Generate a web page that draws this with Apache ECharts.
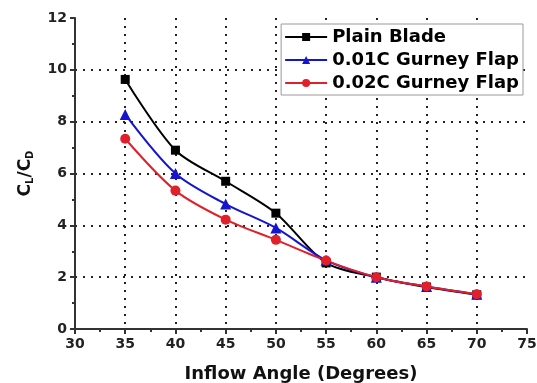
<!DOCTYPE html>
<html>
<head>
<meta charset="utf-8">
<script src="https://cdn.jsdelivr.net/npm/echarts@6/dist/echarts.min.js"></script>
<style>
  html, body { margin: 0; padding: 0; background: #fff; }
  #chart { width: 537px; height: 383px; }
</style>
</head>
<body>
<div id="chart"></div>
<script>
  // inflow angle (degrees)
  const angles = [35, 40, 45, 50, 55, 60, 65, 70];
  // CL/CD ratio for each blade configuration
  const plainBlade = [9.63, 6.9, 5.7, 4.47, 2.55, 2.0, 1.62, 1.32];
  const gurney001 = [8.28, 6.0, 4.82, 3.9, 2.65, 2.0, 1.64, 1.34];
  const gurney002 = [7.34, 5.34, 4.22, 3.44, 2.64, 2.0, 1.64, 1.34];
  const seriesNames = ['Plain Blade', '0.01C Gurney Flap', '0.02C Gurney Flap'];

  const pairs = arr => angles.map((a, i) => [a, arr[i]]);

  const chart = echarts.init(document.getElementById('chart'));

  const font = '"DejaVu Sans", Arial, sans-serif';
  const dotted = { color: '#222', width: 2, type: [2, 6] };

  const makeSeries = (name, values, color, symbol, size) => ({
    name,
    type: 'line',
    smooth: 0.3,
    symbol,
    symbolSize: size,
    lineStyle: { color, width: 2 },
    itemStyle: { color },
    data: pairs(values),
  });

  const option = {
    animation: false,
    textStyle: { fontFamily: font },
    grid: { left: 75, right: 10, top: 18, bottom: 54, containLabel: false, outerBoundsMode: 'none' },
    legend: {
      orient: 'vertical',
      right: 14,
      top: 24,
      itemGap: 5,
      itemWidth: 42,
      itemHeight: 10,
      padding: [4, 4, 3, 3],
      backgroundColor: '#fff',
      borderColor: '#999',
      borderWidth: 1,
      textStyle: { fontFamily: font, fontWeight: 'bold', fontSize: 18, color: '#000' },
      data: seriesNames,
    },
    xAxis: {
      type: 'value',
      min: 30,
      max: 75,
      interval: 5,
      name: 'Inflow Angle (Degrees)',
      nameLocation: 'middle',
      nameGap: 36,
      nameTextStyle: { fontFamily: font, fontWeight: 'bold', fontSize: 18, color: '#111' },
      axisLine: { show: true, lineStyle: { color: '#333', width: 2 } },
      axisTick: { show: true, length: 5, lineStyle: { color: '#333', width: 2 } },
      minorTick: { show: true, splitNumber: 2, length: 3, lineStyle: { color: '#333', width: 2 } },
      axisLabel: { fontFamily: font, fontWeight: 'bold', fontSize: 14, color: '#222', margin: 8 },
      splitLine: { show: true, showMinLine: false, showMaxLine: false, lineStyle: dotted },
    },
    yAxis: {
      type: 'value',
      min: 0,
      max: 12,
      interval: 2,
      name: 'C{sub|L}/C{sub|D}',
      nameLocation: 'middle',
      nameGap: 40,
      nameRotate: 90,
      nameTextStyle: {
        fontFamily: font, fontWeight: 'bold', fontSize: 17, color: '#111',
        rich: {
          sub: { fontFamily: font, fontWeight: 'bold', fontSize: 10, color: '#111', verticalAlign: 'bottom', padding: [8, 0, 0, 0] },
        },
      },
      axisLine: { show: true, lineStyle: { color: '#333', width: 2 } },
      axisTick: { show: true, length: 5, lineStyle: { color: '#333', width: 2 } },
      minorTick: { show: true, splitNumber: 2, length: 3, lineStyle: { color: '#333', width: 2 } },
      axisLabel: { fontFamily: font, fontWeight: 'bold', fontSize: 14, color: '#222', margin: 8 },
      splitLine: { show: true, showMinLine: false, showMaxLine: false, lineStyle: dotted },
    },
    series: [
      makeSeries(seriesNames[0], plainBlade, '#000000', 'rect', 9),
      makeSeries(seriesNames[1], gurney001, '#1515d0', 'triangle', 11),
      makeSeries(seriesNames[2], gurney002, '#e0202a', 'circle', 10),
    ],
  };

  chart.setOption(option);
</script>
</body>
</html>
